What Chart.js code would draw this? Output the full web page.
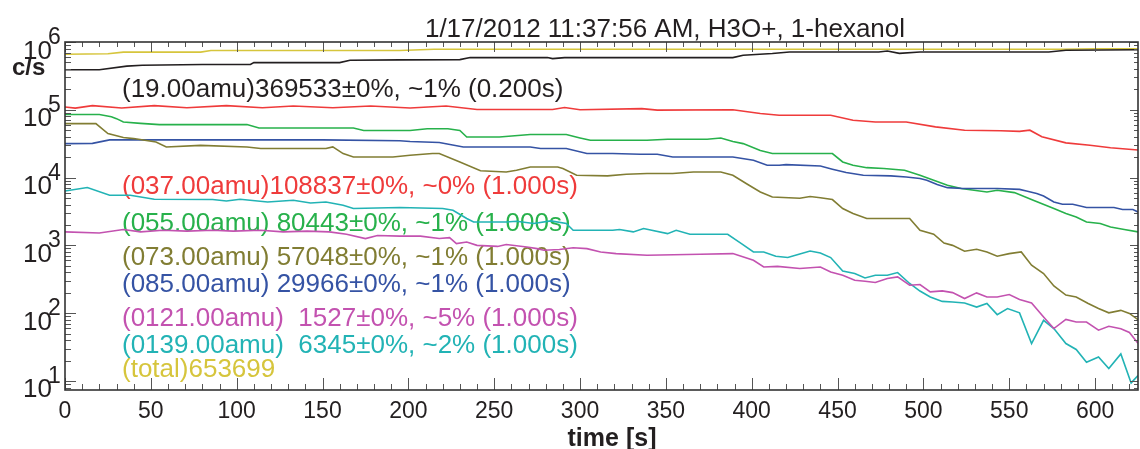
<!DOCTYPE html>
<html>
<head>
<meta charset="utf-8">
<script src="https://cdn.jsdelivr.net/npm/chart.js@4.4.1/dist/chart.umd.min.js"></script>
<style>
  body { margin: 0; background: #fff; }
  #plot { display: block; }
</style>
</head>
<body>
<canvas id="plot" width="1140" height="449"></canvas>
<script>
// count rates (c/s) per mass, time in seconds
const totalTime = [0, 25, 34, 79, 85, 195, 215, 580, 600, 625];
const totalCps  = [6.6e5, 6.7e5, 7.1e5, 7.1e5, 7.5e5, 7.5e5, 7.8e5, 7.8e5, 7.95e5, 7.95e5];

const m19Time = [0, 20, 36, 45, 80, 108, 110, 160, 166, 195, 230, 236, 281, 284, 291, 389, 395, 412, 422, 474, 479, 486, 498, 573, 583, 625];
const m19Cps  = [3.9e5, 3.9e5, 4.4e5, 4.55e5, 4.65e5, 4.65e5, 4.97e5, 4.97e5, 5.37e5, 5.45e5, 5.5e5, 5.89e5, 5.89e5, 5.69e5, 5.89e5, 5.89e5, 6.37e5, 6.75e5, 7.13e5, 7.13e5, 7.35e5, 6.8e5, 7.13e5, 7.13e5, 7.55e5, 7.7e5];

const m37Time = [0, 6, 16, 33, 52, 71, 94, 115, 133, 156, 178, 201, 222, 240, 284, 291, 300, 336, 345, 389, 405, 416, 446, 459, 472, 490, 507, 524, 545, 556, 562, 569, 583, 597, 609, 625];
const m37Cps  = [1.1e5, 1.06e5, 1.15e5, 1.06e5, 1.15e5, 1.07e5, 1.15e5, 1.07e5, 1.14e5, 1.07e5, 1.14e5, 1.06e5, 1.14e5, 1.01e5, 1.01e5, 1.08e5, 1.0e5, 1.04e5, 9.9e4, 1.0e5, 8.8e4, 8.3e4, 8.3e4, 7.0e4, 6.6e4, 6.6e4, 5.6e4, 5.0e4, 4.9e4, 4.8e4, 5.0e4, 4.0e4, 3.25e4, 3.0e4, 2.75e4, 2.55e4];

const m55Time = [0, 20, 27, 30, 34, 44, 55, 106, 113, 168, 174, 201, 211, 223, 230, 234, 253, 271, 292, 300, 306, 339, 351, 374, 382, 389, 395, 405, 412, 447, 453, 459, 467, 477, 489, 498, 506, 514, 522, 537, 543, 553, 564, 576, 583, 589, 595, 603, 609, 617, 625];
const m55Cps  = [8.5e4, 8.5e4, 7.9e4, 7.4e4, 6.6e4, 6.3e4, 6.05e4, 6.05e4, 5.4e4, 5.4e4, 4.95e4, 4.95e4, 5.25e4, 5.25e4, 4.95e4, 3.97e4, 3.97e4, 4.31e4, 4.31e4, 3.84e4, 3.55e4, 3.55e4, 3.67e4, 3.67e4, 3.84e4, 3.4e4, 3.17e4, 2.5e4, 2.26e4, 2.26e4, 1.7e4, 1.52e4, 1.4e4, 1.36e4, 1.28e4, 1.08e4, 9.1e3, 7.7e3, 6.9e3, 6.14e3, 6.5e3, 6.0e3, 4.63e3, 3.49e3, 2.95e3, 2.62e3, 2.21e3, 2.1e3, 1.87e3, 1.71e3, 1.58e3];

const m73Time = [0, 18, 25, 34, 40, 53, 59, 79, 106, 114, 152, 156, 162, 168, 191, 201, 214, 218, 230, 242, 257, 263, 271, 287, 290, 298, 316, 327, 339, 354, 366, 382, 389, 397, 405, 412, 428, 434, 440, 447, 453, 459, 467, 492, 498, 506, 512, 517, 524, 531, 537, 543, 550, 557, 563, 570, 576, 583, 589, 596, 602, 608, 615, 620, 625];
const m73Cps  = [6.26e4, 6.26e4, 4.46e4, 3.9e4, 3.76e4, 3.35e4, 2.83e4, 2.99e4, 2.83e4, 2.68e4, 2.68e4, 2.83e4, 2.26e4, 2.01e4, 2.01e4, 2.13e4, 2.26e4, 2.26e4, 1.7e4, 1.26e4, 1.21e4, 1.28e4, 1.43e4, 1.43e4, 1.36e4, 1.08e4, 1.06e4, 1.12e4, 1.15e4, 1.15e4, 1.21e4, 1.21e4, 1.08e4, 8.1e3, 6.14e3, 5.18e3, 4.95e3, 5.25e3, 5.05e3, 4.74e3, 3.49e3, 2.95e3, 2.49e3, 2.49e3, 1.67e3, 1.46e3, 1.08e3, 1.0e3, 820, 875, 800, 690, 756, 800, 509, 384, 252, 185, 173, 139, 117, 101, 110, 99, 80];

const m85Time = [0, 16, 26, 150, 195, 201, 218, 232, 271, 277, 292, 304, 319, 335, 345, 354, 389, 401, 409, 416, 420, 440, 447, 455, 465, 481, 490, 498, 502, 508, 514, 523, 543, 556, 560, 566, 570, 576, 581, 587, 595, 611, 616, 622, 625];
const m85Cps  = [3.17e4, 3.2e4, 3.6e4, 3.6e4, 3.5e4, 3.4e4, 3.3e4, 2.83e4, 2.83e4, 2.68e4, 2.68e4, 2.26e4, 2.26e4, 2.21e4, 2.21e4, 2.01e4, 2.01e4, 1.8e4, 1.52e4, 1.52e4, 1.55e4, 1.48e4, 1.33e4, 1.19e4, 1.08e4, 1.06e4, 1.02e4, 9.67e3, 9.12e3, 7.89e3, 7.1e3, 6.89e3, 6.89e3, 6.7e3, 6.34e3, 5.81e3, 5.35e3, 4.37e3, 4.04e3, 4.04e3, 3.61e3, 3.61e3, 3.38e3, 3.38e3, 3.11e3];

const m121Time = [0, 20, 34, 44, 57, 71, 86, 98, 114, 127, 141, 154, 164, 175, 182, 195, 207, 218, 224, 228, 234, 240, 252, 257, 269, 275, 279, 288, 296, 304, 312, 321, 339, 370, 389, 401, 407, 415, 428, 440, 446, 453, 460, 466, 472, 479, 485, 492, 498, 504, 511, 517, 524, 531, 537, 543, 550, 556, 563, 570, 576, 583, 589, 595, 602, 608, 615, 620, 625];
const m121Cps  = [1.58e3, 1.52e3, 1.71e3, 1.58e3, 1.67e3, 1.62e3, 1.67e3, 1.62e3, 1.67e3, 1.58e3, 1.62e3, 1.58e3, 1.46e3, 1.26e3, 1.4e3, 1.37e3, 1.37e3, 1.26e3, 1.3e3, 1.06e3, 1.12e3, 1.0e3, 965, 1.03e3, 946, 895, 847, 867, 920, 895, 800, 756, 715, 739, 756, 603, 480, 490, 455, 480, 405, 362, 306, 296, 283, 324, 342, 258, 264, 206, 213, 201, 164, 199, 173, 173, 188, 159, 141, 88, 59.3, 81, 74, 74, 56, 64, 59, 52, 36];

const m139Time = [0, 13, 26, 38, 52, 86, 94, 102, 118, 133, 143, 152, 162, 168, 195, 220, 226, 234, 238, 257, 263, 273, 283, 292, 296, 319, 323, 331, 337, 351, 356, 364, 386, 394, 401, 407, 414, 421, 427, 434, 440, 446, 453, 460, 466, 472, 479, 485, 492, 498, 504, 511, 517, 524, 531, 537, 543, 549, 556, 563, 570, 576, 583, 589, 595, 602, 608, 615, 621, 625];
const m139Cps  = [6.34e3, 7.12e3, 5.48e3, 5.48e3, 4.79e3, 4.75e3, 4.52e3, 4.79e3, 4.37e3, 4.63e3, 4.22e3, 4.37e3, 3.91e3, 3.49e3, 3.61e3, 3.49e3, 3.3e3, 2.49e3, 2.21e3, 2.21e3, 2.27e3, 2.1e3, 2.3e3, 2.1e3, 1.67e3, 1.67e3, 1.71e3, 1.58e3, 1.77e3, 1.49e3, 1.67e3, 1.46e3, 1.46e3, 1.06e3, 800, 800, 690, 661, 731, 826, 773, 661, 419, 384, 330, 362, 362, 397, 274, 212, 173, 149, 146, 141, 123, 139, 95, 117, 101, 35.6, 78.5, 59.3, 35.6, 29.1, 18.9, 22.6, 15.2, 25, 9.35, 12];

const notes = [
  '(19.00amu)369533\u00b10%, ~1% (0.200s)',
  '(037.00amu)108837\u00b10%, ~0% (1.000s)',
  '(055.00amu) 80443\u00b10%, ~1% (1.000s)',
  '(073.00amu) 57048\u00b10%, ~1% (1.000s)',
  '(085.00amu) 29966\u00b10%, ~1% (1.000s)',
  '(0121.00amu)  1527\u00b10%, ~5% (1.000s)',
  '(0139.00amu)  6345\u00b10%, ~2% (1.000s)',
  '(total)653699'
];
const xTickValues = [0, 50, 100, 150, 200, 250, 300, 350, 400, 450, 500, 550, 600];
const yDecades = [1, 2, 3, 4, 5, 6];

const FONT = '"Liberation Sans", Arial, Helvetica, sans-serif';
const INK = '#231f20';
const C = {
  total: '#d6c53c', m19: '#231f20', m37: '#ef3b3b', m55: '#27b14b',
  m73: '#817d33', m85: '#3553a4', m121: '#c352b0', m139: '#22b3b5'
};
const noteColors = [C.m19, C.m37, C.m55, C.m73, C.m85, C.m121, C.m139, C.total];
const noteBaselines = [97, 194, 231, 265, 292, 326, 353, 377];

function pairs(ts, vs) { return ts.map((t, i) => ({ x: t, y: vs[i] })); }

function line(ts, vs, color) {
  return { data: pairs(ts, vs), borderColor: color, borderWidth: 1.6, pointRadius: 0, tension: 0, fill: false };
}

// axis frame with inward ticks, superscript decade labels and text
const frame = {
  id: 'frame',
  beforeDatasetsDraw(chart) {
    const ctx = chart.ctx;
    ctx.save();
    ctx.font = '26px ' + FONT;
    ctx.textAlign = 'left';
    ctx.textBaseline = 'alphabetic';
    notes.forEach((s, i) => {
      ctx.fillStyle = noteColors[i];
      ctx.fillText(s, 122, noteBaselines[i]);
    });
    ctx.restore();
  },
  afterDraw(chart) {
    const ctx = chart.ctx;
    const a = chart.chartArea;
    const xs = chart.scales.x, ys = chart.scales.y;
    ctx.save();

    ctx.strokeStyle = '#555';
    ctx.lineWidth = 1;
    ctx.beginPath();
    for (let t = 0; t <= 625; t += 10) {
      const px = Math.round(xs.getPixelForValue(t)) + 0.5;
      const major = t % 50 === 0;
      ctx.moveTo(px, a.bottom); ctx.lineTo(px, a.bottom - (major ? 12 : 6));
      ctx.moveTo(px, a.top); ctx.lineTo(px, a.top + (major ? 10 : 5));
    }
    for (let k = 0; k <= 6; k++) {
      for (let m = 1; m <= 9; m++) {
        const v = m * Math.pow(10, k);
        if (v < ys.min || v > ys.max) continue;
        const py = Math.round(ys.getPixelForValue(v)) + 0.5;
        const major = m === 1;
        ctx.moveTo(a.left, py); ctx.lineTo(a.left + (major ? 11 : 6), py);
        ctx.moveTo(a.right, py); ctx.lineTo(a.right - (major ? 8 : 4), py);
      }
    }
    ctx.stroke();

    ctx.strokeStyle = '#333';
    ctx.lineWidth = 1.6;
    ctx.strokeRect(a.left, a.top, a.right - a.left, a.bottom - a.top);

    ctx.fillStyle = INK;
    ctx.textBaseline = 'alphabetic';
    ctx.font = '23px ' + FONT;
    ctx.textAlign = 'center';
    xTickValues.forEach(t => ctx.fillText(String(t), xs.getPixelForValue(t), 418));

    yDecades.forEach(k => {
      const py = ys.getPixelForValue(Math.pow(10, k));
      ctx.font = '26px ' + FONT;
      ctx.textAlign = 'right';
      ctx.fillText('10', 52, py + 16.5);
      ctx.font = '23px ' + FONT;
      ctx.textAlign = 'left';
      ctx.fillText(String(k), 48, py + 2);
    });

    ctx.font = 'bold 24px ' + FONT;
    ctx.textAlign = 'left';
    ctx.fillText('c/s', 12, 75);

    ctx.font = 'bold 25px ' + FONT;
    ctx.textAlign = 'center';
    ctx.fillText('time [s]', 612, 446);

    ctx.font = '26px ' + FONT;
    ctx.fillText('1/17/2012 11:37:56 AM, H3O+, 1-hexanol', 665, 37);
    ctx.restore();
  }
};

new Chart(document.getElementById('plot'), {
  type: 'line',
  data: {
    datasets: [
      line(m121Time, m121Cps, C.m121),
      line(m139Time, m139Cps, C.m139),
      line(m73Time, m73Cps, C.m73),
      line(m85Time, m85Cps, C.m85),
      line(m55Time, m55Cps, C.m55),
      line(m37Time, m37Cps, C.m37),
      line(m19Time, m19Cps, C.m19),
      line(totalTime, totalCps, C.total)
    ]
  },
  options: {
    responsive: false,
    animation: false,
    layout: { padding: { left: 65, right: 2, top: 42, bottom: 59 } },
    plugins: { legend: { display: false }, tooltip: { enabled: false } },
    scales: {
      x: { type: 'linear', min: 0, max: 625, display: false },
      y: { type: 'logarithmic', min: 7.35, max: 1e6, display: false }
    }
  },
  plugins: [frame]
});
</script>
</body>
</html>
